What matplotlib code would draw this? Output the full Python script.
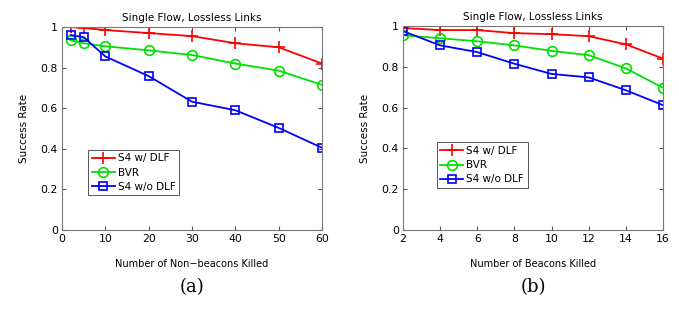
import matplotlib.pyplot as plt

# --- (a) non-beacons killed -------------------------------------------------
x_a = [2, 5, 10, 20, 30, 40, 50, 60]
s4_dlf_a = [1.0, 0.995, 0.985, 0.97, 0.955, 0.92, 0.90, 0.82]
bvr_a = [0.935, 0.92, 0.905, 0.885, 0.862, 0.82, 0.785, 0.715]
s4_nodlf_a = [0.96, 0.95, 0.855, 0.758, 0.632, 0.59, 0.503, 0.405]

# --- (b) beacons killed -----------------------------------------------------
x_b = [2, 4, 6, 8, 10, 12, 14, 16]
s4_dlf_b = [0.99, 0.98, 0.98, 0.965, 0.96, 0.95, 0.91, 0.84]
bvr_b = [0.955, 0.94, 0.925, 0.905, 0.878, 0.857, 0.792, 0.697]
s4_nodlf_b = [0.975, 0.905, 0.872, 0.815, 0.765, 0.748, 0.685, 0.612]

labels = ["S4 w/ DLF", "BVR", "S4 w/o DLF"]
W, H = 679, 309

fig = plt.figure(figsize=(W / 100, H / 100), dpi=100)
ax_a = fig.add_axes([62 / W, 1 - 230 / H, 260 / W, 203 / H])
ax_b = fig.add_axes([403 / W, 1 - 230 / H, 260 / W, 204 / H])

panels = [
    (ax_a, x_a, [s4_dlf_a, bvr_a, s4_nodlf_a], "Number of Non\u2212beacons Killed",
     (0, 60), [0, 10, 20, 30, 40, 50, 60], "(a)", (0.08, 0.145)),
    (ax_b, x_b, [s4_dlf_b, bvr_b, s4_nodlf_b], "Number of Beacons Killed",
     (2, 16), [2, 4, 6, 8, 10, 12, 14, 16], "(b)", (0.11, 0.18)),
]

styles = [dict(color="red", marker="+", ms=8, mew=1.2),
          dict(color="#00e000", marker="o", ms=7, mfc="none", mew=1.2),
          dict(color="blue", marker="s", ms=6, mfc="none", mew=1.2)]

for ax, x, ys, xlabel, xlim, xticks, tag, legpos in panels:
    for y, st, lab in zip(ys, styles, labels):
        ax.plot(x, y, lw=1.3, label=lab, **st)
    ax.set_xlim(*xlim)
    ax.set_ylim(0, 1)
    ax.set_xticks(xticks)
    ax.set_yticks([0, 0.2, 0.4, 0.6, 0.8, 1])
    ax.set_yticklabels(["0", "0.2", "0.4", "0.6", "0.8", "1"])
    ax.tick_params(direction="in", top=True, right=True, labelsize=7.8,
                   length=3, color="#555555", pad=3)
    for sp in ax.spines.values():
        sp.set_color("#777777")
        sp.set_linewidth(0.8)
    ax.set_title("Single Flow, Lossless Links", fontsize=7.5, pad=4)
    ax.set_ylabel("Success Rate", fontsize=7.5, labelpad=8)
    ax.set_xlabel(xlabel, fontsize=7, labelpad=11)
    leg = ax.legend(loc="lower left", bbox_to_anchor=legpos, fontsize=7.5,
                    handlelength=2.2, handletextpad=0.3, borderpad=0.35,
                    labelspacing=0.4, fancybox=False, framealpha=1)
    leg.get_frame().set_edgecolor("#555555")
    leg.get_frame().set_linewidth(0.7)
    ax.text(0.5, -0.235, tag, transform=ax.transAxes, ha="center", va="top",
            fontsize=13, family="DejaVu Serif")

fig.savefig("out.png", dpi=100)
